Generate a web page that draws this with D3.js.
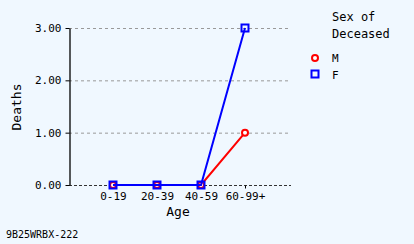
<!DOCTYPE html>
<html>
<head>
<meta charset="utf-8">
<script src="https://cdn.jsdelivr.net/npm/d3@7"></script>
<style>
  body { margin: 0; background: #f0f8ff; }
  svg { display: block; font-family: "DejaVu Sans Mono", monospace; }
</style>
</head>
<body>
<svg id="chart" width="414" height="244"></svg>
<script>
// chart data
const ageGroups = ["0-19", "20-39", "40-59", "60-99+"];
const maleDeaths = [0, 0, 0, 1];
const femaleDeaths = [0, 0, 0, 3];
const yTicks = [0, 1, 2, 3];

const svg = d3.select("#chart");
const plotLeft = 69, plotRight = 291, plotTop = 28, plotBottom = 185;

const x = d3.scalePoint()
  .domain(ageGroups)
  .range([plotLeft, plotRight - 2])
  .padding(1);

const y = d3.scaleLinear()
  .domain([0, 3])
  .range([plotBottom, plotTop]);

svg.append("rect")
  .attr("width", 414).attr("height", 244)
  .attr("fill", "#f0f8ff");

// grid lines
svg.append("g")
  .selectAll("line")
  .data(yTicks.filter(d => d > 0))
  .enter()
  .append("line")
  .attr("x1", plotLeft).attr("x2", plotRight)
  .attr("y1", d => y(d) + 0.5).attr("y2", d => y(d) + 0.5)
  .attr("stroke", "#999")
  .attr("stroke-dasharray", "3,3");

// x axis (dashed baseline)
const xAxis = svg.append("g")
  .attr("transform", "translate(0," + (plotBottom + 0.5) + ")")
  .call(d3.axisBottom(x).tickSize(3).tickPadding(4));
xAxis.select(".domain")
  .attr("d", "M" + plotLeft + ",0H" + plotRight)
  .attr("stroke", "#333")
  .attr("stroke-dasharray", "3,2");
xAxis.selectAll("text")
  .style("font-family", "DejaVu Sans Mono, monospace")
  .style("font-size", "11px")
  .attr("fill", "#000");

// y axis
const yAxis = svg.append("g")
  .attr("transform", "translate(" + (plotLeft + 0.5) + ",0)")
  .call(d3.axisLeft(y).tickValues(yTicks).tickFormat(d3.format(".2f")).tickSize(4).tickPadding(4).tickSizeOuter(0));
yAxis.select(".domain").attr("stroke", "#000").attr("stroke-width", 1.3);
yAxis.selectAll("text")
  .style("font-family", "DejaVu Sans Mono, monospace")
  .style("font-size", "11px")
  .attr("fill", "#000");

// axis titles
svg.append("text")
  .attr("x", 178).attr("y", 216)
  .attr("text-anchor", "middle")
  .style("font-size", "13px")
  .text("Age");

svg.append("text")
  .attr("transform", "translate(21,107) rotate(-90)")
  .attr("text-anchor", "middle")
  .style("font-size", "13px")
  .text("Deaths");

const line = d3.line()
  .x((d, i) => x(ageGroups[i]))
  .y(d => y(d));

// M series
svg.append("path")
  .datum(maleDeaths)
  .attr("d", line)
  .attr("fill", "none")
  .attr("stroke", "#ff0000")
  .attr("stroke-width", 2);
svg.selectAll(".m")
  .data(maleDeaths)
  .enter()
  .append("circle")
  .attr("class", "m")
  .attr("cx", (d, i) => x(ageGroups[i]))
  .attr("cy", d => y(d))
  .attr("r", 3)
  .attr("fill", "#fff")
  .attr("stroke", "#ff0000")
  .attr("stroke-width", 2);

// F series
svg.append("path")
  .datum(femaleDeaths)
  .attr("d", line)
  .attr("fill", "none")
  .attr("stroke", "#0000ff")
  .attr("stroke-width", 2);
svg.selectAll(".f")
  .data(femaleDeaths)
  .enter()
  .append("rect")
  .attr("class", "f")
  .attr("x", (d, i) => x(ageGroups[i]) - 3.5)
  .attr("y", d => y(d) - 3.5)
  .attr("width", 7).attr("height", 7)
  .attr("fill", "none")
  .attr("stroke", "#0000ff")
  .attr("stroke-width", 2);

// legend
const legend = svg.append("g").style("font-size", "12px");
legend.append("text").attr("x", 332).attr("y", 21).text("Sex of");
legend.append("text").attr("x", 332).attr("y", 38).text("Deceased");
legend.append("circle")
  .attr("cx", 315).attr("cy", 58).attr("r", 3)
  .attr("fill", "#fff").attr("stroke", "#ff0000").attr("stroke-width", 2);
legend.append("text").attr("x", 332).attr("y", 62).style("font-size", "11px").text("M");
legend.append("rect")
  .attr("x", 311.5).attr("y", 70.5).attr("width", 7).attr("height", 7)
  .attr("fill", "none").attr("stroke", "#0000ff").attr("stroke-width", 2);
legend.append("text").attr("x", 332).attr("y", 79).style("font-size", "11px").text("F");

// footer
svg.append("text")
  .attr("x", 6).attr("y", 238)
  .style("font-size", "10px")
  .text("9B25WRBX-222");
</script>
</body>
</html>
